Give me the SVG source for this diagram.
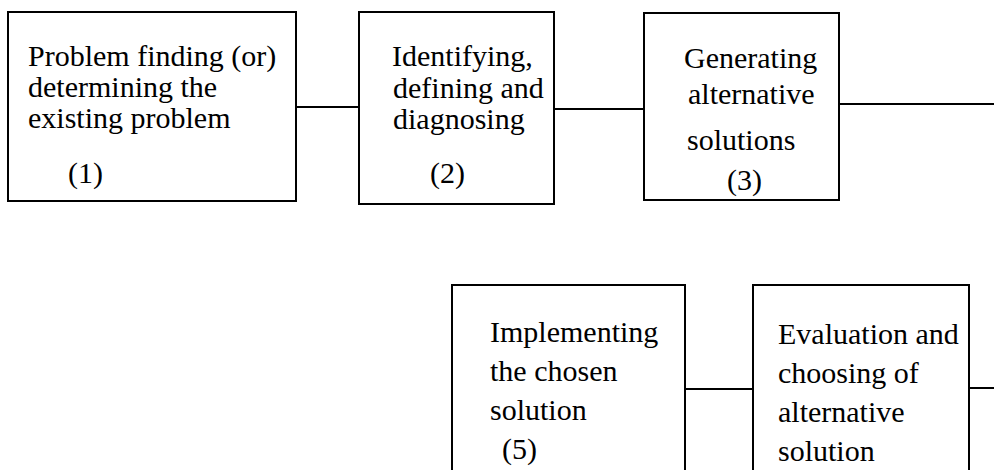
<svg xmlns="http://www.w3.org/2000/svg" width="994" height="470" viewBox="0 0 994 470">
  <style>
    .box { fill: #ffffff; stroke: #000000; stroke-width: 2; }
    .wire { fill: none; stroke: #000000; stroke-width: 2; }
    .lbl { font-family: "Liberation Serif", "Times New Roman", serif; font-size: 30px; fill: #000000; }
  </style>
  <rect x="0" y="0" width="994" height="470" fill="#ffffff"/>

  <!-- connectors between the steps -->
  <g id="connectors">
    <line class="wire" x1="296" y1="107" x2="359" y2="107"/>
    <line class="wire" x1="554" y1="109" x2="644" y2="109"/>
    <line class="wire" x1="839" y1="104" x2="994" y2="104"/>
    <line class="wire" x1="685" y1="389" x2="753" y2="389"/>
    <line class="wire" x1="969" y1="388" x2="994" y2="388"/>
  </g>

  <g id="step1">
    <rect class="box" x="8" y="12" width="288" height="189"/>
    <text class="lbl" x="28" y="66">Problem finding (or)</text>
    <text class="lbl" x="28" y="97">determining the</text>
    <text class="lbl" x="28" y="128">existing problem</text>
    <text class="lbl" x="68" y="183">(1)</text>
  </g>

  <g id="step2">
    <rect class="box" x="359" y="12" width="195" height="192"/>
    <text class="lbl" x="392" y="66">Identifying,</text>
    <text class="lbl" x="393" y="98">defining and</text>
    <text class="lbl" x="393" y="129">diagnosing</text>
    <text class="lbl" x="430" y="183">(2)</text>
  </g>

  <g id="step3">
    <rect class="box" x="644" y="13" width="195" height="187"/>
    <text class="lbl" x="684" y="68">Generating</text>
    <text class="lbl" x="688" y="104">alternative</text>
    <text class="lbl" x="687" y="150">solutions</text>
    <text class="lbl" x="727" y="190">(3)</text>
  </g>

  <g id="step5">
    <rect class="box" x="452" y="285" width="233" height="200"/>
    <text class="lbl" x="490" y="342">Implementing</text>
    <text class="lbl" x="490" y="381">the chosen</text>
    <text class="lbl" x="490" y="420">solution</text>
    <text class="lbl" x="502" y="459">(5)</text>
  </g>

  <g id="step4">
    <rect class="box" x="753" y="285" width="216" height="200"/>
    <text class="lbl" x="778" y="344">Evaluation and</text>
    <text class="lbl" x="778" y="383">choosing of</text>
    <text class="lbl" x="778" y="422">alternative</text>
    <text class="lbl" x="778" y="461">solution</text>
  </g>
</svg>
